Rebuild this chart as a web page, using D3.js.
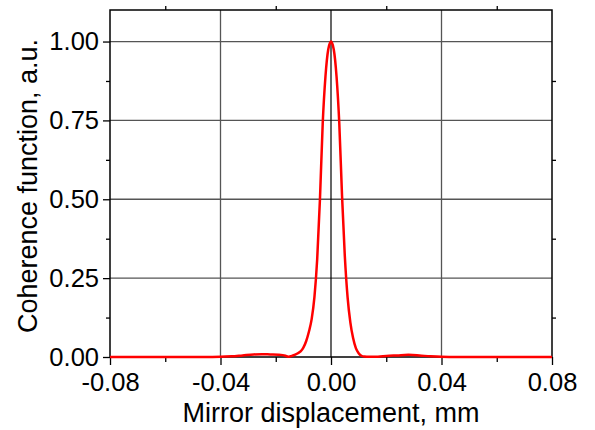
<!DOCTYPE html>
<html>
<head>
<meta charset="utf-8">
<script src="https://cdn.jsdelivr.net/npm/d3@7"></script>
<style>
html,body{margin:0;padding:0;background:#fff;}
svg{display:block;}
text{font-family:"Liberation Sans",Arial,sans-serif;fill:#000;}
</style>
</head>
<body>
<svg id="chart" width="595" height="430"></svg>
<script>
// Data
const displacement = [-0.08, -0.05, -0.04, -0.036, -0.032, -0.028, -0.025, -0.022, -0.019, -0.0165, -0.0155, -0.014, -0.012, -0.011, -0.010, -0.009, -0.008, -0.007, -0.006, -0.005, -0.004, -0.003, -0.002, -0.001, 0,
  0.001, 0.002, 0.003, 0.004, 0.005, 0.006, 0.007, 0.008, 0.009, 0.010, 0.011, 0.012, 0.014, 0.017, 0.020, 0.024, 0.028, 0.032, 0.036, 0.040, 0.05, 0.08];
const coherence = [0, 0, 0.0005, 0.002, 0.005, 0.008, 0.009, 0.008, 0.007, 0.004, 0.001, 0.004, 0.012, 0.018, 0.03, 0.05, 0.08, 0.12, 0.19, 0.31, 0.50, 0.74, 0.89, 0.975, 1.0,
  0.975, 0.89, 0.74, 0.51, 0.32, 0.19, 0.11, 0.06, 0.028, 0.012, 0.004, 0.0015, 0.0005, 0.001, 0.003, 0.005, 0.007, 0.005, 0.002, 0.0005, 0, 0];
const xTicks = [-0.08, -0.04, 0.00, 0.04, 0.08];
const xMinor = [-0.06, -0.02, 0.02, 0.06];
const yTicks = [0, 0.25, 0.5, 0.75, 1.0];
const yMinor = [0.125, 0.375, 0.625, 0.875];
const xLabel = "Mirror displacement, mm";
const yLabel = "Coherence function, a.u.";

const svg = d3.select("#chart");
const L = 110, R = 552, T = 10, B = 357;
const FS = "25.5px", FT = "27px";
const x = d3.scaleLinear().domain([-0.08, 0.08]).range([L, R]);
const y = d3.scaleLinear().domain([0, 1.1]).range([B, T]);

// grid
const grid = svg.append("g");
grid.selectAll("line.v").data(xTicks.filter(d => d !== 0 && Math.abs(d) < 0.08)).enter().append("line")
  .attr("x1", d => x(d)).attr("x2", d => x(d)).attr("y1", T).attr("y2", B)
  .attr("stroke", "#555").attr("stroke-width", 1.3);
grid.selectAll("line.h").data(yTicks.filter(d => d > 0)).enter().append("line")
  .attr("y1", d => y(d)).attr("y2", d => y(d)).attr("x1", L).attr("x2", R)
  .attr("stroke", "#555").attr("stroke-width", 1.3);
// zero line
svg.append("line").attr("x1", x(0)).attr("x2", x(0)).attr("y1", T).attr("y2", B)
  .attr("stroke", "#000").attr("stroke-width", 1.2);

// axes
const fmtX = d => d3.format(".2f")(d).replace("−", "-");
const xAxis = svg.append("g").attr("transform", `translate(0,${B})`)
  .call(d3.axisBottom(x).tickValues(xTicks).tickFormat(fmtX).tickSize(8).tickPadding(8));
const xAxisMinor = svg.append("g").attr("transform", `translate(0,${B})`)
  .call(d3.axisBottom(x).tickValues(xMinor).tickFormat("").tickSize(5));
const yAxis = svg.append("g").attr("transform", `translate(${L},0)`)
  .call(d3.axisLeft(y).tickValues(yTicks).tickFormat(d3.format(".2f")).tickSize(7).tickPadding(4));
const yAxisMinor = svg.append("g").attr("transform", `translate(${L},0)`)
  .call(d3.axisLeft(y).tickValues(yMinor).tickFormat("").tickSize(4));
const topMinor = svg.append("g").attr("transform", `translate(0,${T})`)
  .call(d3.axisTop(x).tickValues(xMinor).tickFormat("").tickSize(4));
const rightMinor = svg.append("g").attr("transform", `translate(${R},0)`)
  .call(d3.axisRight(y).tickValues(yMinor).tickFormat("").tickSize(4));
[xAxis, xAxisMinor, yAxis, yAxisMinor, topMinor, rightMinor].forEach(g => {
  g.select(".domain").remove();
  g.selectAll(".tick line").attr("stroke", "#000").attr("stroke-width", 1.3);
  g.selectAll(".tick text").style("font-size", FS).style("font-family", "Liberation Sans, Arial, sans-serif");
});

// frame
svg.append("rect").attr("x", L).attr("y", T).attr("width", R - L).attr("height", B - T)
  .attr("fill", "none").attr("stroke", "#000").attr("stroke-width", 1.5);

// curve
const pts = displacement.map((d, i) => [d, coherence[i]]);
svg.append("path").datum(pts)
  .attr("d", d3.line().x(d => x(d[0])).y(d => y(d[1])).curve(d3.curveMonotoneX))
  .attr("fill", "none").attr("stroke", "#ff0000").attr("stroke-width", 2.5);

// labels
svg.append("text").attr("x", (L + R) / 2).attr("y", 422).attr("text-anchor", "middle")
  .style("font-size", FT).text(xLabel);
svg.append("text").attr("transform", `translate(37,186) rotate(-90)`)
  .attr("text-anchor", "middle").style("font-size", FT).text(yLabel);
</script>
</body>
</html>
